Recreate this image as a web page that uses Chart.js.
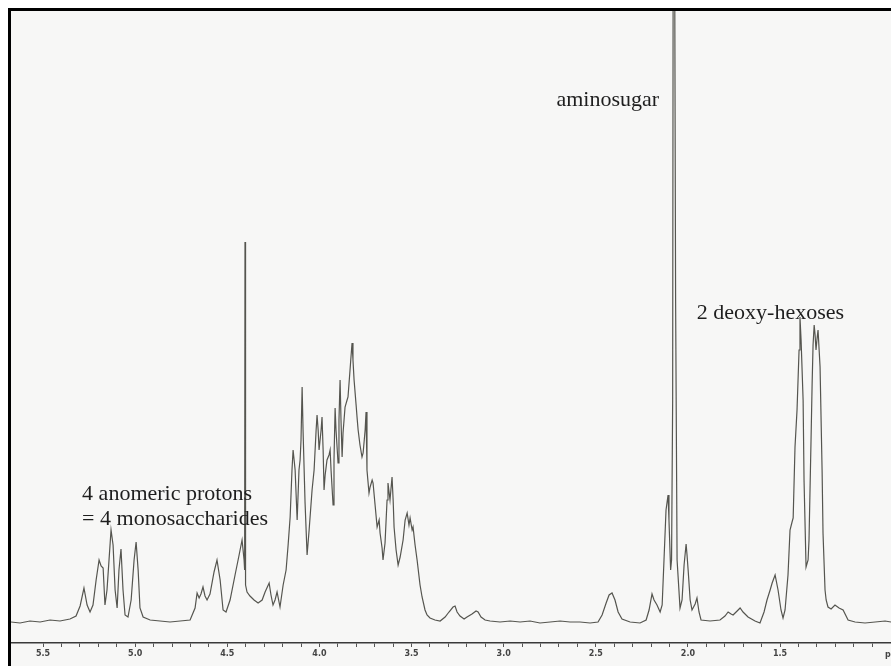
<!DOCTYPE html>
<html lang="en">
<head>
    <meta charset="UTF-8">
    <title>1H NMR spectrum</title>
    <style>
        body {
            margin: 0;
            background: #ffffff;
        }
        .frame {
            position: absolute;
            left: 8px;
            top: 8px;
            width: 880px;
            height: 655px;
            border-top: 3px solid #000;
            border-left: 3px solid #000;
            background: #f7f7f6;
        }
    </style>
</head>
<body>

<div class="frame">
    <canvas id="spectrum" width="880" height="655"></canvas>
</div>

<script src="https://cdn.jsdelivr.net/npm/chart.js"></script>
<script>
    // chemical shift (ppm)
    const shifts = [
        5.674, 5.625, 5.571, 5.516, 5.462, 5.408, 5.354, 5.321, 5.299, 5.278,
        5.261, 5.245, 5.229, 5.212, 5.196, 5.185, 5.174, 5.164, 5.153, 5.142,
        5.131, 5.120, 5.109, 5.098, 5.088, 5.077, 5.066, 5.055, 5.039, 5.022,
        5.006, 4.995, 4.984, 4.974, 4.957, 4.919, 4.865, 4.811, 4.756, 4.702,
        4.675, 4.664, 4.653, 4.643, 4.632, 4.621, 4.610, 4.594, 4.572, 4.556,
        4.539, 4.523, 4.507, 4.485, 4.458, 4.436, 4.420, 4.409, 4.406, 4.404,
        4.401, 4.393, 4.377, 4.355, 4.333, 4.311, 4.295, 4.273, 4.263, 4.252,
        4.241, 4.230, 4.214, 4.197, 4.181, 4.170, 4.159, 4.149, 4.143, 4.132,
        4.121, 4.111, 4.105, 4.100, 4.094, 4.089, 4.078, 4.067, 4.056, 4.040,
        4.029, 4.018, 4.013, 4.007, 4.002, 3.991, 3.986, 3.980, 3.975, 3.969,
        3.959, 3.948, 3.942, 3.937, 3.926, 3.921, 3.915, 3.910, 3.899, 3.894,
        3.888, 3.883, 3.877, 3.872, 3.861, 3.850, 3.845, 3.834, 3.828, 3.823,
        3.818, 3.812, 3.801, 3.796, 3.790, 3.780, 3.769, 3.763, 3.752, 3.747,
        3.742, 3.731, 3.725, 3.714, 3.709, 3.698, 3.687, 3.676, 3.671, 3.660,
        3.655, 3.644, 3.633, 3.628, 3.617, 3.606, 3.600, 3.595, 3.584, 3.573,
        3.562, 3.546, 3.535, 3.524, 3.514, 3.508, 3.497, 3.492, 3.481, 3.470,
        3.454, 3.443, 3.427, 3.416, 3.400, 3.373, 3.345, 3.318, 3.297, 3.275,
        3.264, 3.253, 3.237, 3.215, 3.199, 3.172, 3.150, 3.139, 3.123, 3.101,
        3.074, 3.020, 2.965, 2.911, 2.857, 2.803, 2.748, 2.694, 2.640, 2.586,
        2.531, 2.488, 2.466, 2.444, 2.428, 2.412, 2.396, 2.379, 2.358, 2.314,
        2.260, 2.227, 2.211, 2.195, 2.184, 2.168, 2.151, 2.140, 2.130, 2.119,
        2.108, 2.103, 2.094, 2.089, 2.083, 2.080, 2.073, 2.067, 2.059, 2.043,
        2.032, 2.021, 2.010, 2.005, 1.999, 1.988, 1.978, 1.961, 1.951, 1.940,
        1.929, 1.880, 1.826, 1.799, 1.782, 1.766, 1.755, 1.733, 1.717, 1.701,
        1.674, 1.636, 1.609, 1.587, 1.571, 1.554, 1.543, 1.527, 1.511, 1.495,
        1.484, 1.473, 1.457, 1.446, 1.435, 1.429, 1.419, 1.408, 1.397, 1.392,
        1.386, 1.375, 1.370, 1.359, 1.348, 1.343, 1.332, 1.326, 1.321, 1.315,
        1.310, 1.305, 1.299, 1.294, 1.288, 1.283, 1.272, 1.267, 1.256, 1.250,
        1.240, 1.223, 1.202, 1.180, 1.158, 1.131, 1.093, 1.039, 0.984, 0.930,
        0.898
    ];

    // signal intensity (arbitrary units, baseline = 0)
    const intensity = [
        0, -1, 1, 0, 2, 1, 3, 6, 16, 34,
        17, 10, 17, 42, 62, 56, 54, 17, 32, 62,
        92, 77, 32, 14, 52, 73, 32, 7, 5, 22,
        62, 80, 52, 14, 5, 2, 1, 0, 1, 2,
        14, 29, 24, 28, 35, 26, 22, 28, 50, 62,
        42, 12, 10, 22, 47, 67, 82, 62, 52, 380,
        37, 30, 26, 22, 19, 22, 30, 39, 27, 17,
        22, 30, 15, 37, 52, 77, 105, 152, 172, 152,
        102, 152, 162, 182, 235, 192, 119, 67, 92, 132,
        152, 192, 207, 192, 172, 192, 205, 172, 132, 147,
        162, 167, 172, 152, 117, 162, 214, 192, 159, 202,
        242, 202, 165, 189, 215, 222, 225, 252, 267, 279,
        262, 242, 217, 205, 192, 177, 165, 169, 192, 210,
        152, 129, 135, 142, 139, 117, 95, 102, 89, 74,
        62, 79, 122, 139, 122, 145, 122, 95, 72, 57,
        65, 82, 102, 109, 97, 104, 92, 95, 77, 62,
        37, 25, 12, 7, 4, 2, 1, 5, 10, 15,
        16, 10, 6, 3, 5, 8, 11, 10, 5, 2,
        1, 0, 1, 0, 1, -1, 0, 1, 0, 0,
        -1, 0, 7, 19, 27, 29, 22, 10, 3, 0,
        -1, 2, 12, 28, 22, 17, 10, 17, 62, 112,
        127, 102, 52, 62, 222, 722, 722, 322, 62, 14,
        22, 57, 78, 67, 52, 22, 12, 18, 24, 10,
        2, 1, 2, 6, 10, 8, 7, 11, 14, 10,
        5, 1, -1, 10, 22, 32, 39, 47, 32, 12,
        4, 12, 47, 92, 100, 104, 175, 212, 272, 305,
        282, 222, 142, 55, 62, 82, 182, 239, 277, 297,
        287, 272, 284, 292, 272, 255, 152, 89, 32, 22,
        15, 13, 17, 14, 12, 2, 0, -1, 0, 1,
        0
    ];

    const tickLabels = ['5.5', '5.0', '4.5', '4.0', '3.5', '3.0', '2.5', '2.0', '1.5'];
    const unitLabel = 'ppm';

    // peak annotations: text lines, anchor shift, anchor intensity
    const notes = [
        { lines: ['aminosugar'], ppm: 2.714, value: 522 },
        { lines: ['2 deoxy-hexoses'], ppm: 1.952, value: 309 },
        { lines: ['4 anomeric protons', '= 4 monosaccharides'], ppm: 5.288, value: 128 }
    ];

    const points = shifts.map((s, i) => ({ x: s, y: intensity[i] }));

    const notesPlugin = {
        id: 'notes',
        afterDraw(chart) {
            const ctx = chart.ctx;
            const xs = chart.scales.x;
            const ys = chart.scales.y;
            ctx.save();
            ctx.fillStyle = '#1e1e1e';
            ctx.font = '22px "Liberation Serif", serif';
            ctx.textBaseline = 'middle';
            ctx.textAlign = 'left';
            notes.forEach(n => {
                const px = xs.getPixelForValue(n.ppm);
                const py = ys.getPixelForValue(n.value);
                n.lines.forEach((line, k) => {
                    ctx.fillText(line, px, py + k * 25);
                });
            });
            // unit at the right end of the axis
            ctx.font = 'bold 8px "DejaVu Sans", sans-serif';
            ctx.fillStyle = '#444';
            ctx.fillText(unitLabel, xs.right - 6, xs.bottom - 11);
            ctx.restore();
        }
    };

    const ctx = document.getElementById('spectrum').getContext('2d');
    new Chart(ctx, {
        type: 'line',
        data: {
            datasets: [{
                data: points,
                borderColor: '#55554f',
                borderWidth: 1.2,
                pointRadius: 0,
                tension: 0
            }]
        },
        options: {
            responsive: false,
            animation: false,
            layout: { padding: 0 },
            plugins: {
                legend: { display: false },
                tooltip: { enabled: false }
            },
            scales: {
                x: {
                    type: 'linear',
                    reverse: true,
                    min: 0.898,
                    max: 5.674,
                    afterFit(scale) {
                        scale.height = 23;
                    },
                    afterBuildTicks(scale) {
                        scale.ticks = scale.ticks.filter(t =>
                            Math.abs(t.value * 10 - Math.round(t.value * 10)) < 1e-6);
                    },
                    border: { display: true, color: '#3a3a3a', width: 1.5 },
                    grid: {
                        drawOnChartArea: false,
                        drawTicks: true,
                        tickLength: 4,
                        color: '#555'
                    },
                    ticks: {
                        stepSize: 0.1,
                        autoSkip: false,
                        maxRotation: 0,
                        padding: 2,
                        color: '#444',
                        font: { family: 'DejaVu Sans', size: 8, weight: 'bold' },
                        callback(value) {
                            const lbl = Number(value).toFixed(1);
                            const half = Math.abs(value * 2 - Math.round(value * 2)) < 1e-6;
                            return half && tickLabels.includes(lbl) ? lbl : '';
                        }
                    }
                },
                y: {
                    display: false,
                    min: -21,
                    max: 611
                }
            }
        },
        plugins: [notesPlugin]
    });
</script>

</body>
</html>
